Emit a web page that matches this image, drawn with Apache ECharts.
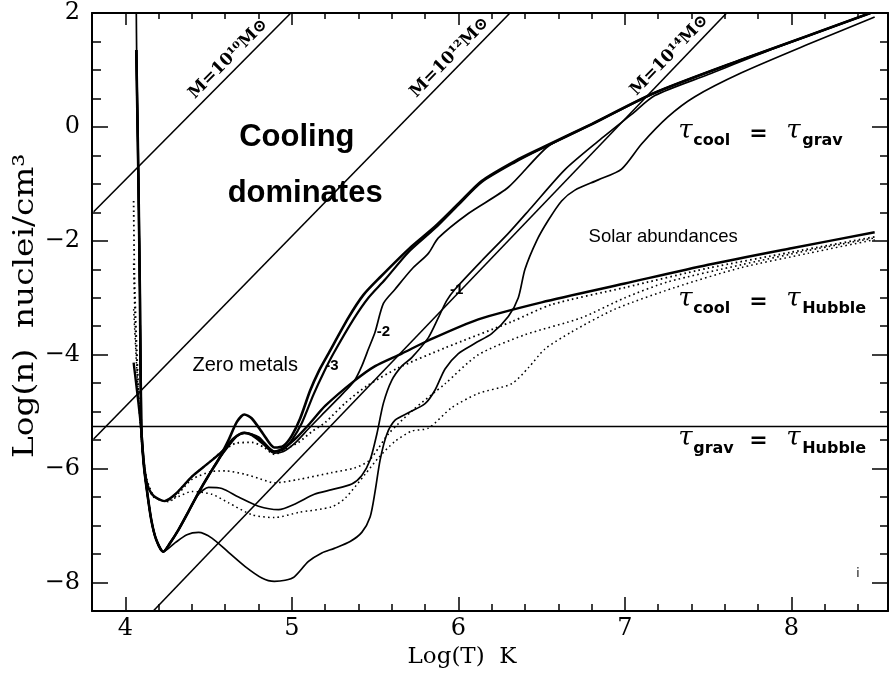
<!DOCTYPE html>
<html><head><meta charset="utf-8">
<script src="https://cdn.jsdelivr.net/npm/echarts@6/dist/echarts.min.js"></script>
<style>html,body{margin:0;padding:0;background:#fff}#c{width:890px;height:676px}</style>
</head><body><div id="c"></div>
<script>
// ---- axis ticks / labels ----
const xMajorTicks = [4, 5, 6, 7, 8];
const xMinorTicks = [3.8, 4.2, 4.4, 4.6, 4.8, 5.2, 5.4, 5.6, 5.8, 6.2, 6.4, 6.6, 6.8, 7.2, 7.4, 7.6, 7.8, 8.2, 8.4];
const yMajorTicks = [-8, -6, -4, -2, 0, 2];
const yMinorTicks = [-8.5, -7.5, -7, -6.5, -5.5, -5, -4.5, -3.5, -3, -2.5, -1.5, -1, -0.5, 0.5, 1, 1.5];
const yTickLabels = ['\u22128', '\u22126', '\u22124', '\u22122', '0', '2'];

// ---- tau_cool = tau_grav curves (solid) ----
const zeroGrav = [[4.066,1.35],[4.078,-0.78],[4.088,-3.0],[4.096,-5.26],[4.11,-5.9],[4.126,-6.3],[4.156,-6.9],[4.186,-7.25],[4.228,-7.46],[4.27,-7.3],[4.32,-7.07],[4.38,-6.75],[4.44,-6.42],[4.5,-6.12],[4.56,-5.84],[4.62,-5.5],[4.67,-5.18],[4.715,-5.05],[4.76,-5.12],[4.83,-5.4],[4.895,-5.63],[4.95,-5.6],[5.0,-5.42],[5.05,-5.12],[5.11,-4.63],[5.16,-4.3],[5.22,-3.98],[5.34,-3.35],[5.43,-2.95],[5.53,-2.64],[5.7,-2.15],[5.86,-1.75],[6.0,-1.35],[6.14,-0.95],[6.34,-0.6],[6.5,-0.37],[6.8,0.05],[7.18,0.6],[7.7,1.18],[8.1,1.6],[8.475,2.0]];
const m3Grav = [[4.066,1.35],[4.078,-0.78],[4.088,-3.0],[4.096,-5.26],[4.11,-5.9],[4.126,-6.3],[4.156,-6.9],[4.186,-7.25],[4.228,-7.46],[4.27,-7.3],[4.32,-7.07],[4.38,-6.75],[4.44,-6.42],[4.5,-6.12],[4.56,-5.84],[4.62,-5.6],[4.67,-5.43],[4.715,-5.37],[4.76,-5.4],[4.83,-5.55],[4.895,-5.7],[4.95,-5.66],[5.0,-5.5],[5.06,-5.2],[5.13,-4.7],[5.19,-4.32],[5.25,-3.98],[5.37,-3.38],[5.46,-3.0],[5.56,-2.68],[5.7,-2.2],[5.86,-1.78],[6.0,-1.37],[6.14,-0.97],[6.34,-0.62],[6.5,-0.38],[6.8,0.04],[7.18,0.6],[7.7,1.18],[8.1,1.6],[8.475,2.0]];
const m2Grav = [[4.066,1.35],[4.078,-0.78],[4.088,-3.0],[4.096,-5.26],[4.11,-5.9],[4.126,-6.3],[4.156,-6.9],[4.186,-7.25],[4.228,-7.46],[4.27,-7.3],[4.32,-7.07],[4.38,-6.75],[4.44,-6.42],[4.5,-6.12],[4.56,-5.84],[4.62,-5.6],[4.67,-5.43],[4.715,-5.38],[4.76,-5.42],[4.83,-5.58],[4.895,-5.73],[4.95,-5.7],[5.02,-5.55],[5.1,-5.3],[5.2,-5.0],[5.3,-4.7],[5.375,-4.46],[5.42,-4.2],[5.46,-3.9],[5.5,-3.6],[5.55,-3.1],[5.62,-2.85],[5.72,-2.5],[5.82,-2.22],[5.88,-1.95],[6.06,-1.52],[6.3,-1.06],[6.54,-0.34],[6.8,0.05],[7.18,0.6],[7.7,1.18],[8.1,1.6],[8.475,2.0]];
const m1Grav = [[4.066,1.35],[4.078,-0.78],[4.088,-3.0],[4.096,-5.26],[4.11,-5.9],[4.126,-6.3],[4.156,-6.9],[4.186,-7.25],[4.228,-7.46],[4.27,-7.3],[4.32,-7.07],[4.38,-6.75],[4.44,-6.45],[4.5,-6.33],[4.58,-6.35],[4.68,-6.5],[4.8,-6.66],[4.92,-6.72],[5.02,-6.62],[5.135,-6.45],[5.24,-6.37],[5.36,-6.27],[5.42,-6.12],[5.47,-5.85],[5.51,-5.4],[5.55,-4.85],[5.6,-4.45],[5.66,-4.2],[5.72,-4.05],[5.82,-3.7],[5.88,-3.35],[5.93,-3.05],[5.98,-2.85],[6.14,-2.35],[6.3,-1.87],[6.44,-1.41],[6.64,-0.75],[6.84,-0.25],[7.04,0.22],[7.18,0.55],[7.5,0.92],[7.9,1.38],[8.475,2.0]];
const solarGrav = [[4.066,2.0],[4.068,1.35],[4.078,-0.78],[4.088,-3.0],[4.096,-5.26],[4.11,-5.9],[4.126,-6.3],[4.156,-6.9],[4.186,-7.25],[4.228,-7.46],[4.3,-7.3],[4.37,-7.16],[4.44,-7.12],[4.52,-7.22],[4.62,-7.47],[4.72,-7.72],[4.82,-7.92],[4.895,-7.98],[4.96,-7.96],[5.015,-7.9],[5.1,-7.63],[5.18,-7.48],[5.255,-7.4],[5.35,-7.28],[5.42,-7.12],[5.47,-6.85],[5.5,-6.4],[5.53,-5.85],[5.57,-5.4],[5.62,-5.15],[5.7,-5.02],[5.8,-4.86],[5.86,-4.62],[5.92,-4.25],[6.0,-3.98],[6.1,-3.8],[6.2,-3.63],[6.3,-3.33],[6.36,-3.0],[6.4,-2.5],[6.47,-2.0],[6.54,-1.64],[6.62,-1.3],[6.7,-1.11],[6.84,-0.93],[6.98,-0.74],[7.1,-0.3],[7.26,0.18],[7.42,0.53],[7.7,0.95],[8.1,1.45],[8.5,1.93]];

// ---- tau_cool = tau_Hubble curves ----
const zeroHubble = [[4.05,-4.14],[4.075,-4.75],[4.094,-5.26],[4.11,-5.85],[4.126,-6.2],[4.144,-6.37],[4.174,-6.49],[4.234,-6.57],[4.3,-6.45],[4.4,-6.14],[4.5,-5.9],[4.58,-5.7],[4.65,-5.47],[4.715,-5.37],[4.8,-5.45],[4.895,-5.7],[4.96,-5.62],[5.03,-5.45],[5.11,-5.2],[5.2,-4.9],[5.375,-4.46],[5.5,-4.2],[5.66,-3.98],[5.82,-3.75],[6.12,-3.38],[6.5,-3.08],[7.0,-2.75],[7.5,-2.42],[8.0,-2.13],[8.5,-1.85]];
const m3Hubble = [[4.05,-1.3],[4.055,-2.6],[4.065,-3.6],[4.08,-4.7],[4.094,-5.3],[4.11,-5.85],[4.13,-6.2],[4.17,-6.47],[4.234,-6.57],[4.3,-6.45],[4.4,-6.14],[4.5,-5.9],[4.58,-5.7],[4.67,-5.55],[4.76,-5.54],[4.83,-5.62],[4.895,-5.75],[4.96,-5.66],[5.04,-5.54],[5.12,-5.35],[5.2,-5.19],[5.32,-4.85],[5.45,-4.55],[5.64,-4.23],[5.92,-3.88],[6.32,-3.42],[6.56,-3.12],[7.0,-2.82],[7.5,-2.48],[8.0,-2.2],[8.5,-1.93]];
const m2Hubble = [[4.05,-2.4],[4.06,-3.5],[4.08,-4.8],[4.095,-5.4],[4.11,-5.9],[4.13,-6.25],[4.17,-6.5],[4.26,-6.58],[4.33,-6.4],[4.4,-6.19],[4.52,-6.05],[4.6,-6.04],[4.72,-6.1],[4.81,-6.18],[4.895,-6.25],[5.04,-6.19],[5.24,-6.07],[5.375,-5.99],[5.46,-5.87],[5.52,-5.64],[5.58,-5.39],[5.72,-4.99],[5.92,-4.51],[6.12,-4.0],[6.4,-3.65],[6.74,-3.35],[7.0,-3.0],[7.26,-2.72],[7.7,-2.42],[8.1,-2.17],[8.5,-1.95]];
const m1Hubble = [[4.05,-3.2],[4.07,-4.3],[4.09,-5.2],[4.11,-5.9],[4.13,-6.25],[4.17,-6.48],[4.234,-6.57],[4.32,-6.49],[4.4,-6.4],[4.52,-6.45],[4.62,-6.6],[4.76,-6.81],[4.895,-6.86],[5.04,-6.77],[5.24,-6.67],[5.32,-6.52],[5.44,-6.1],[5.52,-5.81],[5.62,-5.52],[5.72,-5.34],[5.82,-5.29],[5.96,-4.93],[6.12,-4.68],[6.32,-4.51],[6.42,-4.23],[6.52,-3.9],[6.68,-3.6],[6.94,-3.2],[7.3,-2.82],[7.7,-2.47],[8.1,-2.22],[8.5,-1.98]];

// ---- straight lines ----
const massLine10 = [[3.81,-1.49],[4.994,2.0]];
const massLine12 = [[3.81,-5.48],[6.31,2.0]];
const massLine14 = [[4.168,-8.5],[7.611,2.0]];
const gravHubbleLine = [[3.8,-5.26],[8.58,-5.26]];

const massLabels = ['M=10\u00b9\u2070M\u2299', 'M=10\u00b9\u00b2M\u2299', 'M=10\u00b9\u2074M\u2299'];

const chart = echarts.init(document.getElementById('c'), null, {renderer: 'canvas'});
const SERIF = "'DejaVu Serif', serif";
const XMIN = 3.8, XMAX = 8.58, YMIN = -8.5, YMAX = 2;

function xAx(pos, ticks, len, major) {
  return {
    type: 'value', min: XMIN, max: XMAX, position: pos,
    axisLine: {show: major, onZero: false, lineStyle: {color: '#000', width: 2}},
    axisTick: {show: true, inside: true, length: len, customValues: ticks, lineStyle: {color: '#000', width: 1.5}},
    axisLabel: {show: major && pos === 'bottom', customValues: xMajorTicks, color: '#000', fontFamily: SERIF, fontSize: 24, margin: 6},
    splitLine: {show: false},
    name: (major && pos === 'bottom') ? 'Log(T)  K' : '',
    nameLocation: 'middle', nameGap: 30,
    nameTextStyle: {color: '#000', fontFamily: SERIF, fontSize: 23, padding: [0, 56, 0, 0]}
  };
}
function yAx(pos, ticks, len, major) {
  return {
    type: 'value', min: YMIN, max: YMAX, position: pos,
    axisLine: {show: major, onZero: false, lineStyle: {color: '#000', width: 2}},
    axisTick: {show: true, inside: true, length: len, customValues: ticks, lineStyle: {color: '#000', width: 1.5}},
    axisLabel: {show: major && pos === 'left', customValues: yMajorTicks, color: '#000', fontFamily: SERIF, fontSize: 24, margin: 12,
      formatter: v => yTickLabels[yMajorTicks.indexOf(Math.round(v))] || ''},
    splitLine: {show: false}
  };
}

function curve(data, width, dotted) {
  return {
    type: 'line', data: data, xAxisIndex: 0, yAxisIndex: 0,
    showSymbol: false, symbol: 'none', smooth: 0.25, clip: true, silent: true,
    lineStyle: {color: '#000', width: width, type: dotted ? [1.6, 3.2] : 'solid', cap: 'butt', join: 'round'},
    z: dotted ? 2 : 3
  };
}
function straight(data) {
  return {type: 'line', data: data, showSymbol: false, symbol: 'none', smooth: false, clip: true, silent: true,
    lineStyle: {color: '#000', width: 1.6}, z: 1};
}

chart.setOption({
  animation: false,
  backgroundColor: '#fff',
  grid: {left: 92, right: 2, top: 13, bottom: 65, containLabel: false, outerBoundsMode: 'none'},
  xAxis: [xAx('bottom', xMajorTicks, 14, true), xAx('bottom', xMinorTicks, 7, false), xAx('top', xMajorTicks, 12, true), xAx('top', xMinorTicks, 6, false)],
  yAxis: [yAx('left', yMajorTicks, 16, true), yAx('left', yMinorTicks, 9, false), yAx('right', yMajorTicks, 16, true), yAx('right', yMinorTicks, 8, false)],
  series: [
    straight(massLine10), straight(massLine12), straight(massLine14), straight(gravHubbleLine),
    curve(zeroGrav, 2.6), curve(m3Grav, 2.2), curve(m2Grav, 1.7), curve(m1Grav, 1.7), curve(solarGrav, 1.7),
    curve(zeroHubble, 2.4), curve(m3Hubble, 1.8, true), curve(m2Hubble, 1.6, true), curve(m1Hubble, 1.5, true)
  ]
});

const toPx = p => chart.convertToPixel({xAxisIndex: 0, yAxisIndex: 0}, p);
const g = [];
function txt(p, text, font, opts) {
  const q = toPx(p);
  g.push(Object.assign({type: 'text', x: q[0], y: q[1], z: 10,
    style: Object.assign({text: text, font: font, fill: '#000', align: 'center', verticalAlign: 'middle'}, opts || {})}));
}
// y-axis title (vertical), centred beside the axis
(function () {
  const q = toPx([XMIN, -3.14]);
  g.push({type: 'text', x: q[0] - 66, y: q[1], rotation: Math.PI / 2, scaleX: 1.17, z: 10,
    style: {text: 'Log(n)  nuclei/cm\u00b3', font: "28px 'DejaVu Serif'", fill: '#000', align: 'center', verticalAlign: 'middle'}});
})();
// mass-line labels, rotated along the lines
[[massLine10, 4.67], [massLine12, 6.0], [massLine14, 7.32]].forEach((m, i) => {
  const a = toPx(m[0][0]), b = toPx(m[0][1]);
  const ang = Math.atan2(-(b[1] - a[1]), b[0] - a[0]);
  const t = (m[1] - m[0][0][0]) / (m[0][1][0] - m[0][0][0]);
  const yv = m[0][0][1] + t * (m[0][1][1] - m[0][0][1]);
  const c = toPx([m[1], yv]);
  const d = 12;
  g.push({type: 'text', x: c[0] - d * Math.sin(ang), y: c[1] - d * Math.cos(ang), rotation: ang, z: 10,
    style: {text: massLabels[i], font: "bold 17px 'DejaVu Serif'", fill: '#000', align: 'center', verticalAlign: 'middle'}});
});
txt([5.03, -0.18], 'Cooling', "bold 31px 'Liberation Sans'");
txt([5.08, -1.16], 'dominates', "bold 31px 'Liberation Sans'");
txt([4.72, -4.19], 'Zero metals', "20px 'Liberation Sans'");
txt([7.23, -1.93], 'Solar abundances', "18.5px 'Liberation Sans'");
txt([5.24, -4.2], '-3', "bold 15px 'Liberation Sans'");
txt([5.55, -3.6], '-2', "bold 15px 'Liberation Sans'");
txt([5.99, -2.86], '-1', "bold 15px 'Liberation Sans'");
txt([8.4, -7.84], 'i', "12px 'DejaVu Sans'");

// tau relation labels
function tauRow(p, sub1, sub2) {
  const q = toPx(p);
  const L = q[0], cy = q[1];
  const tau = "italic 26px 'DejaVu Serif'", sub = "bold 16px 'DejaVu Sans'";
  g.push({type: 'text', x: L, y: cy, z: 10, style: {text: '\u03c4', font: tau, fill: '#000', align: 'left', verticalAlign: 'middle'}});
  g.push({type: 'text', x: L + 15, y: cy + 10, z: 10, style: {text: sub1, font: sub, fill: '#000', align: 'left', verticalAlign: 'middle'}});
  g.push({type: 'text', x: L + 71, y: cy + 3, z: 10, style: {text: '=', font: "bold 22px 'DejaVu Sans'", fill: '#000', align: 'left', verticalAlign: 'middle'}});
  g.push({type: 'text', x: L + 108, y: cy, z: 10, style: {text: '\u03c4', font: tau, fill: '#000', align: 'left', verticalAlign: 'middle'}});
  g.push({type: 'text', x: L + 124, y: cy + 10, z: 10, style: {text: sub2, font: sub, fill: '#000', align: 'left', verticalAlign: 'middle'}});
}
tauRow([7.32, -0.07], 'cool', 'grav');
tauRow([7.32, -3.02], 'cool', 'Hubble');
tauRow([7.32, -5.47], 'grav', 'Hubble');

chart.setOption({graphic: g});
</script></body></html>
